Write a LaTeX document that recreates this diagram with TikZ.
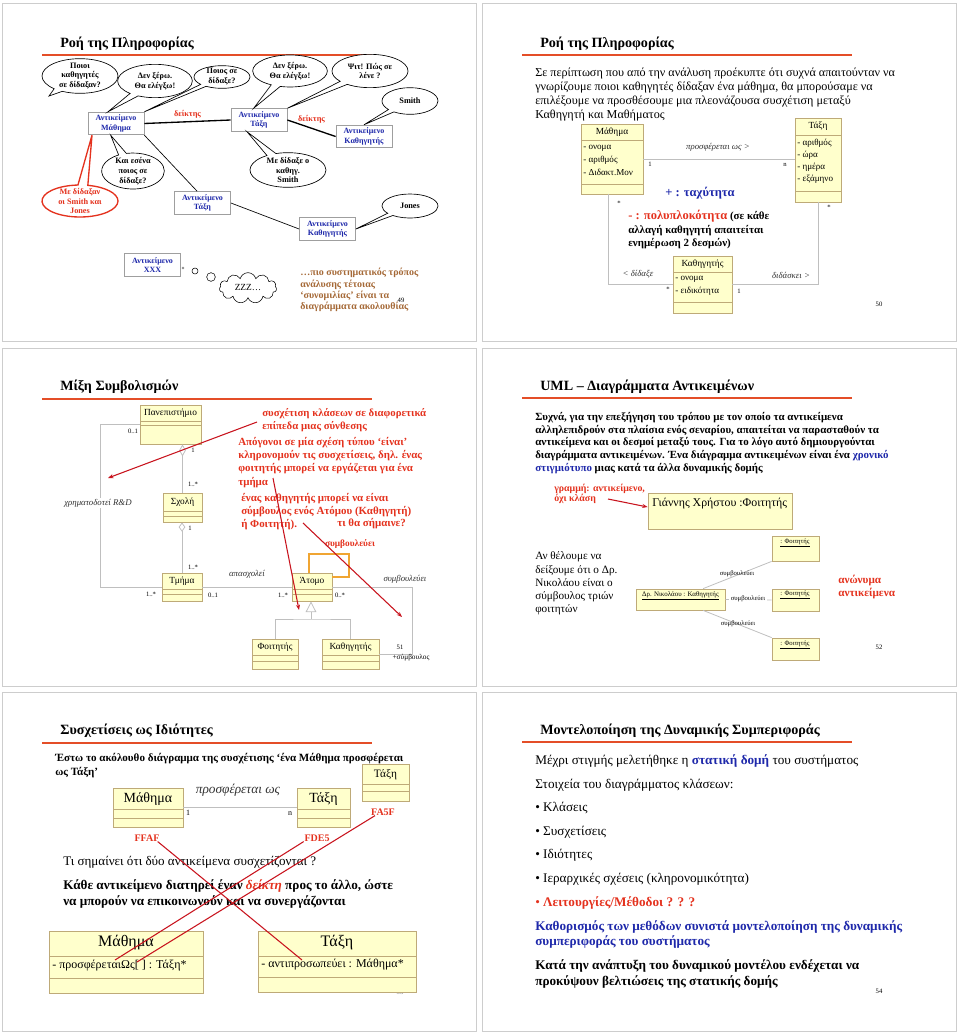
\documentclass[tikz,border=0pt]{standalone}
\usepackage{fontspec}
\setmainfont{Liberation Serif}
\usetikzlibrary{positioning,fit,arrows.meta,shapes.callouts,shapes.symbols,shapes.geometric}

\definecolor{titlered}{RGB}{228,78,40}
\definecolor{annred}{RGB}{228,50,30}
\definecolor{arrred}{RGB}{200,20,30}
\definecolor{objblue}{RGB}{30,40,170}
\definecolor{notebrown}{RGB}{165,105,55}
\definecolor{clsfill}{RGB}{255,255,204}
\definecolor{clsedge}{RGB}{190,170,120}
\definecolor{selforange}{RGB}{240,165,50}
\definecolor{framegray}{RGB}{205,205,205}

\newcommand{\fsz}[2]{\fontsize{#1}{#2}\selectfont}

\tikzset{
  slideframe/.style={draw=framegray, line width=0.5pt},
  slidetitle/.style={anchor=west, inner sep=0pt, font=\bfseries\fsz{10.6}{12}},
  titlebar/.style={draw=titlered, line width=1.3pt},
  objbox/.style={draw=gray!75, fill=white, line width=0.6pt, align=center, inner sep=0pt,
    text=objblue, font=\bfseries\fsz{6}{7.2}, minimum width=42pt, minimum height=17pt},
  bubble/.style={ellipse callout, draw, fill=white, line width=0.5pt, align=center,
    inner sep=-2pt, font=\bfseries\fsz{6.2}{7.4}},
  ptr/.style={draw, line width=1pt},
  thinlink/.style={draw, line width=0.5pt},
  ptrlabel/.style={text=annred, font=\bfseries\fsz{6.2}{7}, inner sep=0pt},
  cls/.style={draw=clsedge, fill=clsfill, line width=0.6pt, inner sep=0pt},
  clsline/.style={draw=clsedge, line width=0.6pt},
  clsname/.style={inner sep=0pt, font=\fsz{7}{8}},
  attr/.style={anchor=west, inner sep=0pt, font=\fsz{6.8}{8}},
  assoc/.style={draw=gray!50, line width=0.6pt},
  selfline/.style={draw=selforange, line width=0.9pt},
  mult/.style={inner sep=0pt, font=\fsz{5}{6}},
  rolelabel/.style={inner sep=0pt, text=black!80, font=\itshape\fsz{6.6}{7}},
  body/.style={anchor=north west, align=left, inner sep=0pt},
  line/.style={anchor=west, inner sep=0pt},
  redline/.style={draw=arrred, line width=0.8pt},
  redarrow/.style={redline, -{Stealth[length=4pt,width=3pt]}},
  objname/.style={inner sep=0pt, font=\fsz{5}{6}},
  pagenum/.style={inner sep=0pt, font=\fsz{5}{6}},
}

\begin{document}
\begin{tikzpicture}[x=0.75pt, y=-0.75pt]
\useasboundingbox (0,0) rectangle (960,1035);

% ---------- slide 49
\draw[slideframe] (2,3) rectangle (476,341);
\node[slidetitle] (t49) at (60,44) {Ροή της Πληροφορίας};
\draw[titlebar] (42,55) -- (372,55);

\node[objbox] (mathA) at (116,123.5) {Αντικείμενο\\Μάθημα};
\node[objbox] (taxiA) at (259,120) {Αντικείμενο\\Τάξη};
\node[objbox] (kathA) at (364,136.5) {Αντικείμενο\\Καθηγητής};
\node[objbox] (taxiA2) at (202.5,203) {Αντικείμενο\\Τάξη};
\node[objbox] (kathA2) at (327.5,229) {Αντικείμενο\\Καθηγητής};
\node[objbox] (xxx) at (152.5,265) {Αντικείμενο\\XXX};

\draw[ptr] (mathA.east) -- (taxiA.west) node[ptrlabel, midway, above=2pt] (ptr1) {δείκτης};
\draw[ptr] (taxiA.east) -- (kathA.west) node[ptrlabel, midway, above=3pt] (ptr2) {δείκτης};
\draw[thinlink] (mathA.south east) -- ([xshift=-4pt]taxiA2.north);
\draw[thinlink] (taxiA2.east) -- (kathA2.west);

\node[bubble, minimum width=57pt, minimum height=26pt, callout absolute pointer={(49,96)}] (q1) at (80,76) {Ποιοι\\καθηγητές\\σε δίδαξαν?};
\node[bubble, minimum width=56pt, minimum height=25pt, callout absolute pointer={([xshift=-6pt]mathA.north)}] (q2) at (155,81) {Δεν ξέρω.\\Θα ελέγξω!};
\node[bubble, minimum width=42pt, minimum height=17pt, callout absolute pointer={(mathA.north east)}] (q3) at (222,77) {Ποιος σε\\δίδαξε?};
\node[bubble, minimum width=56pt, minimum height=24pt, callout absolute pointer={([xshift=-4pt]taxiA.north)}] (q4) at (290,71) {Δεν ξέρω.\\Θα ελέγξω!};
\node[bubble, minimum width=57pt, minimum height=25pt, callout absolute pointer={(taxiA.north east)}] (q5) at (370,71) {Ψιτ! Πώς σε\\λένε ?};
\node[bubble, minimum width=42pt, minimum height=20pt, callout absolute pointer={(kathA.north)}] (q6) at (410,101) {Smith};
\node[bubble, minimum width=47pt, minimum height=27pt, callout absolute pointer={([xshift=-4pt]mathA.south)}] (q7) at (133,171) {Και εσένα\\ποιος σε\\δίδαξε?};
\node[bubble, minimum width=57pt, minimum height=26pt, callout absolute pointer={([xshift=-9pt]taxiA.south)}] (q8) at (288,170) {Με δίδαξε ο\\καθηγ.\\Smith};
\node[bubble, draw=annred, text=annred, line width=1pt, minimum width=57pt, minimum height=24pt, callout absolute pointer={([xshift=-18pt]mathA.south)}] (q9) at (80,201) {Με δίδαξαν\\οι Smith και\\Jones};
\node[bubble, minimum width=42pt, minimum height=18pt, callout absolute pointer={(kathA2.east)}] (q10) at (410,206) {Jones};

\node[circle, draw=gray, minimum size=1.5pt, inner sep=0pt] (th0) at (183,268) {};
\node[circle, draw, minimum size=4.5pt, inner sep=0pt] (th1) at (195,271) {};
\node[circle, draw, minimum size=6.5pt, inner sep=0pt] (th2) at (211,277) {};
\node[cloud, draw, cloud puffs=11, aspect=2, minimum width=43pt, minimum height=23pt, inner sep=0pt, font=\fsz{7}{8}] (zzz) at (248,288) {ZZZ…};

\node[body, text=notebrown, font=\bfseries\fsz{7.5}{8.5}] (note49) at (300,268) {…πιο συστηματικός τρόπος\\ανάλυσης τέτοιας\\‘συνομιλίας’ είναι τα\\διαγράμματα ακολουθίας};
\node[pagenum] (p49) at (401,300) {49};

% ---------- slide 50
\draw[slideframe] (482,3) rectangle (956,341);
\node[slidetitle] (t50) at (540,44) {Ροή της Πληροφορίας};
\draw[titlebar] (522,55) -- (852,55);
\node[body, font=\fsz{9.1}{10.5}] (par50) at (535,67.3) {Σε περίπτωση που από την ανάλυση προέκυπτε ότι συχνά απαιτούνταν να\\γνωρίζουμε ποιοι καθηγητές δίδαξαν ένα μάθημα, θα μπορούσαμε να\\επιλέξουμε να προσθέσουμε μια πλεονάζουσα συσχέτιση μεταξύ\\Καθηγητή και Μαθήματος};

\node[cls, fit={(581,124)(643,194)}] (mathB) {};
\draw[clsline] (581,140) -- (643,140) (581,184) -- (643,184);
\node[clsname] (mathBn) at (612,132) {Μάθημα};
\node[attr] (mathB1) at (583,148) {- ονομα};
\node[attr] (mathB2) at (583,160) {- αριθμός};
\node[attr] (mathB3) at (583,172) {- Διδακτ.Μον};

\node[cls, fit={(795,118)(841,202)}] (taxiB) {};
\draw[clsline] (795,135) -- (841,135) (795,191) -- (841,191);
\node[clsname] (taxiBn) at (818,126) {Τάξη};
\node[attr] (taxiB1) at (797,143) {- αριθμός};
\node[attr] (taxiB2) at (797,155) {- ώρα};
\node[attr] (taxiB3) at (797,167) {- ημέρα};
\node[attr] (taxiB4) at (797,179) {- εξάμηνο};

\node[cls, fit={(673,256)(732,313)}] (kathB) {};
\draw[clsline] (673,272) -- (732,272) (673,302) -- (732,302);
\node[clsname] (kathBn) at (702.5,264) {Καθηγητής};
\node[attr] (kathB1) at (675,279) {- ονομα};
\node[attr] (kathB2) at (675,291) {- ειδικότητα};

\draw[assoc] (mathB.east) -- (taxiB.west |- mathB.east);
\draw[assoc] ([xshift=-3pt]mathB.south) |- (kathB.west);
\draw[assoc] (kathB.east) -| (taxiB.south);
\node[rolelabel] (offer) at (718,147) {προσφέρεται ως >};
\node[mult] (m501) at (650,164) {1};
\node[mult] (m502) at (785,165) {n};
\node[mult] (m503) at (619,203) {*};
\node[mult] (m504) at (829,207) {*};
\node[rolelabel] (taught) at (638,274) {< δίδαξε};
\node[rolelabel] (teaches) at (791,275) {διδάσκει >};
\node[mult] (m505) at (668,289) {*};
\node[mult] (m506) at (739,291) {1};

\node[inner sep=0pt, text=objblue, font=\bfseries\fsz{9.4}{11}] (speed) at (700,193) {+ : ταχύτητα};
\node[body, font=\bfseries\fsz{8.2}{10.1}] (cplx) at (628,210) {{\color{annred}\fsz{9.4}{10.1}- : πολυπλοκότητα} (σε κάθε\\αλλαγή καθηγητή απαιτείται\\ενημέρωση 2 δεσμών)};
\node[pagenum] (p50) at (879,304) {50};

% ---------- slide 51
\draw[slideframe] (2,348) rectangle (476,686);
\node[slidetitle] (t51) at (60,387) {Μίξη Συμβολισμών};
\draw[titlebar] (42,399) -- (372,399);

\node[cls, fit={(140,405)(201,444)}] (pan) {};
\draw[clsline] (140,421) -- (201,421) (140,425) -- (201,425);
\node[clsname] (panN) at (170.5,413) {Πανεπιστήμιο};
\node[cls, fit={(163,493)(202,522)}] (sxoli) {};
\draw[clsline] (163,511) -- (202,511) (163,516) -- (202,516);
\node[clsname] (sxoliN) at (182.5,502) {Σχολή};
\node[cls, fit={(162,573)(202,601)}] (tmima) {};
\draw[clsline] (162,589) -- (202,589) (162,594) -- (202,594);
\node[clsname] (tmimaN) at (182,581) {Τμήμα};
\node[cls, fit={(292,573)(332,601)}] (atomo) {};
\draw[clsline] (292,589) -- (332,589) (292,594) -- (332,594);
\node[clsname] (atomoN) at (312,581) {Άτομο};
\node[cls, fit={(252,639)(298,669)}] (foit) {};
\draw[clsline] (252,655) -- (298,655) (252,661) -- (298,661);
\node[clsname] (foitN) at (275,647) {Φοιτητής};
\node[cls, fit={(322,639)(379,669)}] (kathC) {};
\draw[clsline] (322,655) -- (379,655) (322,661) -- (379,661);
\node[clsname] (kathCN) at (350.5,647) {Καθηγητής};

\draw[assoc, -{Diamond[open,length=9pt,width=5pt]}] (sxoli.north) -- (sxoli.north |- pan.south);
\draw[assoc, -{Diamond[open,length=7pt,width=5pt]}] (tmima.north) -- (tmima.north |- sxoli.south);
\coordinate (rdc) at (100,587);
\draw[assoc] (pan.west) -| (rdc) -- (tmima.west);
\node[rolelabel, fill=white, inner sep=1pt] (rdlab) at (98,503) {χρηματοδοτεί R\&D};
\draw[assoc] (tmima.east) -- (atomo.west);
\coordinate (sc1) at (349,554);
\draw[selfline] ([xshift=-2.25pt]atomo.north) |- (sc1) |- ([yshift=7.5pt]atomo.east);
\coordinate (sc2) at (412,587);
\draw[assoc] (atomo.east) -- (sc2) |- (kathC.east);
\coordinate (gen) at (311,619);
\draw[assoc] (foit.north) |- (gen) -| (kathC.north);
\draw[assoc, -{Triangle[open,length=8pt,width=8pt]}] (gen) -- (gen |- atomo.south);

\node[mult] (m511) at (133,431) {0..1};
\node[mult] (m512) at (193,450) {1};
\node[mult] (m513) at (193,484) {1..*};
\node[mult] (m514) at (190,528) {1};
\node[mult] (m515) at (193,567) {1..*};
\node[mult] (m516) at (151,594) {1..*};
\node[rolelabel] (employs) at (247,574) {απασχολεί};
\node[mult] (m517) at (213,595) {0..1};
\node[mult] (m518) at (283,595) {1..*};
\node[mult] (m519) at (340,595) {0..*};
\node[rolelabel] (advises) at (405,579) {συμβουλεύει};
\node[inner sep=0pt, text=annred, font=\bfseries\fsz{7}{8}] (selfadv) at (350,544) {συμβουλεύει};
\node[pagenum] (p51) at (400,647) {51};
\node[inner sep=0pt, font=\fsz{5.5}{6}] (advisor) at (411,658) {+σύμβουλος};

\node[body, text=annred, font=\bfseries\fsz{8.1}{9.8}] (ann1) at (262,407.9) {συσχέτιση κλάσεων σε διαφορετικά\\επίπεδα μιας σύνθεσης};
\node[body, text=annred, font=\bfseries\fsz{8.2}{10}] (ann2) at (238,436.9) {Απόγονοι σε μία σχέση τύπου ‘είναι’\\κληρονομούν τις συσχετίσεις, δηλ. ένας\\φοιτητής μπορεί να εργάζεται για ένα\\τμήμα};
\node[body, text=annred, font=\bfseries\fsz{8.2}{9.8}] (ann3) at (241,492.8) {ένας καθηγητής μπορεί να είναι\\σύμβουλος ενός Ατόμου (Καθηγητή)\\ή Φοιτητή).};
\node[line, text=annred, font=\bfseries\fsz{8.2}{9.8}] (ann4) at (337,524) {τι θα σήμαινε?};
\coordinate (a1s) at (257,422);
\coordinate (a1e) at (108,478);
\coordinate (a2s) at (273,478);
\coordinate (a2e) at (299,610);
\coordinate (a3s) at (303,523);
\coordinate (a3e) at (402,617);
\draw[redarrow] (a1s) -- (a1e);
\draw[redarrow] (a2s) -- (a2e);
\draw[redarrow] (a3s) -- (a3e);

% ---------- slide 52
\draw[slideframe] (482,348) rectangle (956,686);
\node[slidetitle] (t52) at (540,387) {UML – Διαγράμματα Αντικειμένων};
\draw[titlebar] (522,398) -- (852,398);
\node[body, font=\bfseries\fsz{8.2}{9.6}] (par52) at (535,411.9) {Συχνά, για την επεξήγηση του τρόπου με τον οποίο τα αντικείμενα\\αλληλεπιδρούν στα πλαίσια ενός σεναρίου, απαιτείται να παρασταθούν τα\\αντικείμενα και οι δεσμοί μεταξύ τους. Για το λόγο αυτό δημιουργούνται\\διαγράμματα αντικειμένων. Ένα διάγραμμα αντικειμένων είναι ένα {\color{objblue}χρονικό}\\{\color{objblue}στιγμιότυπο} μιας κατά τα άλλα δυναμικής δομής};

\node[body, text=annred, font=\bfseries\fsz{7.4}{7.6}] (linenote) at (554,483.4) {γραμμή: αντικείμενο,\\όχι κλάση};
\node[cls, fit={(648,493)(792,529)}] (giannis) {};
\node[line, font=\fsz{8.9}{9.5}] (giannisN) at (652,504) {Γιάννης Χρήστου :Φοιτητής};
\coordinate (ln1) at (608,499);
\draw[redarrow] (ln1) -- ([yshift=3pt]giannis.west);

\node[body, font=\fsz{8.4}{9.9}] (par52b) at (535,551.7) {Αν θέλουμε να\\δείξουμε ότι ο Δρ.\\Νικολάου είναι ο\\σύμβουλος τριών\\φοιτητών};

\node[cls, fit={(636,589)(725,610)}] (nik) {};
\node[objname, font=\fsz{5.2}{6}] (nikN) at (680.5,596) {\underline{Δρ. Νικολάου : Καθηγητής}};
\node[cls, fit={(772,536)(819,561)}] (st1) {};
\node[objname] (st1N) at (795,543) {\underline{: Φοιτητής}};
\node[cls, fit={(772,589)(819,611)}] (st2) {};
\node[objname] (st2N) at (795,595) {\underline{: Φοιτητής}};
\node[cls, fit={(772,638)(819,660)}] (st3) {};
\node[objname] (st3N) at (795,645) {\underline{: Φοιτητής}};

\draw[assoc] ([xshift=17pt]nik.north) -- (st1.south west);
\draw[assoc] (nik.east) -- (st2.west);
\draw[assoc] ([xshift=17pt]nik.south) -- (st3.north west);
\node[objname] (adv1) at (737,574) {συμβουλεύει};
\node[objname, fill=white, inner sep=1pt] (adv2) at (748,599) {συμβουλεύει};
\node[objname] (adv3) at (738,624) {συμβουλεύει};

\node[body, text=annred, font=\bfseries\fsz{8.4}{9.8}] (anon) at (838,575) {ανώνυμα\\αντικείμενα};
\node[pagenum] (p52) at (879,647) {52};

% ---------- slide 53
\draw[slideframe] (2,692) rectangle (476,1031);
\node[slidetitle] (t53) at (60,731) {Συσχετίσεις ως Ιδιότητες};
\draw[titlebar] (42,743) -- (372,743);
\node[body, font=\bfseries\fsz{8.3}{10.5}] (par53) at (55,752.8) {Έστω το ακόλουθο διάγραμμα της συσχέτισης ‘ένα Μάθημα προσφέρεται\\ως Τάξη’};

\node[cls, fit={(113,788)(183,827)}] (mathC) {};
\draw[clsline] (113,809) -- (183,809) (113,818) -- (183,818);
\node[clsname, font=\fsz{10.5}{11}] (mathCN) at (148,799) {Μάθημα};
\node[cls, fit={(297,788)(350,827)}] (taxiC) {};
\draw[clsline] (297,809) -- (350,809) (297,818) -- (350,818);
\node[clsname, font=\fsz{10.5}{11}] (taxiCN) at (323.5,799) {Τάξη};
\node[cls, fit={(362,764)(409,801)}] (taxiD) {};
\draw[clsline] (362,784) -- (409,784) (362,791) -- (409,791);
\node[clsname, font=\fsz{8.5}{9}] (taxiDN) at (385.5,775) {Τάξη};

\draw[assoc] (mathC.east) -- (taxiC.west);
\node[rolelabel, font=\itshape\fsz{10}{11}] (offer53) at (238,790) {προσφέρεται ως};
\node[mult, font=\fsz{6}{7}] (m531) at (188,813) {1};
\node[mult, font=\fsz{6}{7}] (m532) at (290,814) {n};
\node[inner sep=0pt, text=annred, font=\bfseries\fsz{7.5}{8}] (ffaf) at (147,838) {FFAF};
\node[inner sep=0pt, text=annred, font=\bfseries\fsz{7.5}{8}] (fde5) at (317,838) {FDE5};
\node[inner sep=0pt, text=annred, font=\bfseries\fsz{7.5}{8}] (fa5f) at (383,812) {FA5F};

\node[line, font=\fsz{9.8}{10}] (ask53) at (63,862) {Τι σημαίνει ότι δύο αντικείμενα συσχετίζονται ?};
\node[body, font=\bfseries\fsz{9.9}{12}] (ans53) at (63,879.8) {Κάθε αντικείμενο διατηρεί έναν {\color{annred}\itshape δείκτη} προς το άλλο, ώστε\\να μπορούν να επικοινωνούν και να συνεργάζονται};

\node[pagenum, text=gray] (p53) at (400,992) {53};
\node[cls, fit={(49,931)(203,993)}] (mathD) {};
\draw[clsline] (49,956) -- (203,956) (49,978) -- (203,978);
\node[clsname, font=\fsz{12}{13}] (mathDN) at (126,943) {Μάθημα};
\node[attr, font=\fsz{9}{10}] (mathD1) at (52,966) {- προσφέρεταιΩς[ ] : Τάξη*};
\node[cls, fit={(258,931)(416,992)}] (taxiE) {};
\draw[clsline] (258,956) -- (416,956) (258,977) -- (416,977);
\node[clsname, font=\fsz{12}{13}] (taxiEN) at (337,943) {Τάξη};
\node[attr, font=\fsz{9}{10}] (taxiE1) at (261,965) {- αντιπροσωπεύει : Μάθημα*};

\coordinate (x1) at (302,960);
\coordinate (x2) at (115,960);
\coordinate (x3) at (137,962);
\draw[redline] ([xshift=8pt]ffaf.south) -- (x1);
\draw[redline] ([xshift=-10pt]fde5.south) -- (x2);
\draw[redline] ([xshift=-6pt]fa5f.south) -- (x3);

% ---------- slide 54
\draw[slideframe] (482,692) rectangle (956,1031);
\node[slidetitle] (t54) at (540,731) {Μοντελοποίηση της Δυναμικής Συμπεριφοράς};
\draw[titlebar] (522,742) -- (852,742);
\node[line, font=\fsz{9.9}{11}] (l541) at (535,761) {Μέχρι στιγμής μελετήθηκε η {\color{objblue}\bfseries στατική δομή} του συστήματος};
\node[line, font=\fsz{9.9}{11}] (l542) at (535,785) {Στοιχεία του διαγράμματος κλάσεων:};
\node[line, font=\fsz{9.9}{11}] (l543) at (535,808) {• Κλάσεις};
\node[line, font=\fsz{9.9}{11}] (l544) at (535,832) {• Συσχετίσεις};
\node[line, font=\fsz{9.9}{11}] (l545) at (535,855) {• Ιδιότητες};
\node[line, font=\fsz{9.9}{11}] (l546) at (535,879) {• Ιεραρχικές σχέσεις (κληρονομικότητα)};
\node[line, text=annred, font=\fsz{9.9}{11}] (l547) at (535,903) {• \textbf{Λειτουργίες/Μέθοδοι ? ? ?}};
\node[body, text=objblue, font=\bfseries\fsz{9.9}{11.3}] (l548) at (535,920.8) {Καθορισμός των μεθόδων συνιστά μοντελοποίηση της δυναμικής\\συμπεριφοράς του συστήματος};
\node[body, font=\bfseries\fsz{9.9}{12}] (l549) at (535,959.8) {Κατά την ανάπτυξη του δυναμικού μοντέλου ενδέχεται να\\προκύψουν βελτιώσεις της στατικής δομής};
\node[pagenum] (p54) at (879,991) {54};
\end{tikzpicture}
\end{document}
